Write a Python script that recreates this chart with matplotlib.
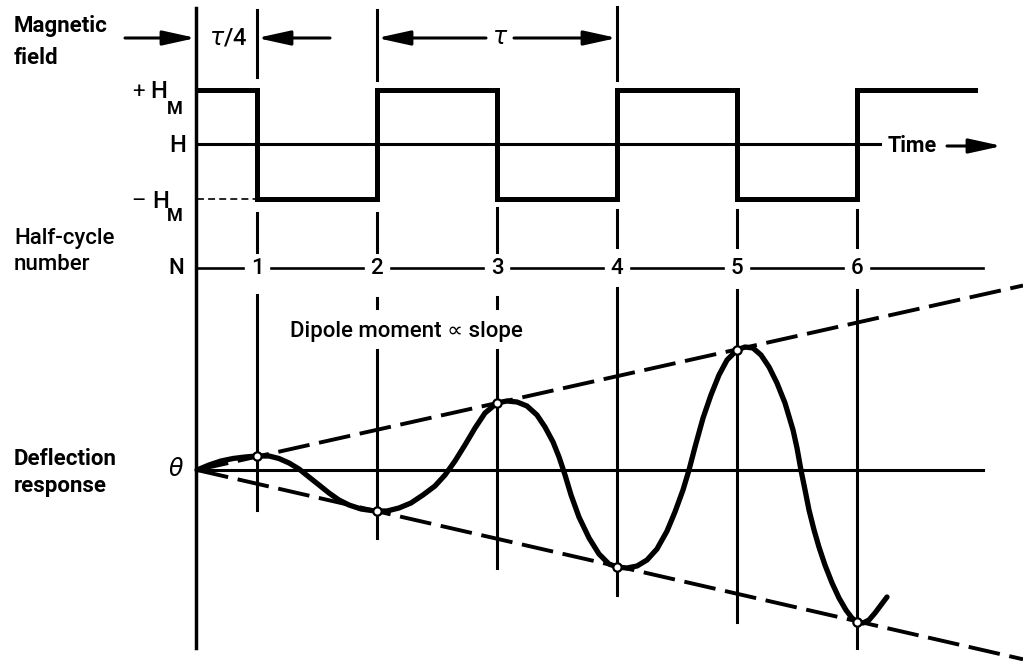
import matplotlib
matplotlib.use("Agg")
import matplotlib.pyplot as plt

plt.rcParams['font.family'] = ['Roboto', 'DejaVu Sans']
plt.rcParams['lines.scale_dashes'] = False

# --- data (time in half-cycle units, tau/2 = 1) ---
half_cycle = [1, 2, 3, 4, 5, 6]
switch_t = [n - 0.5 for n in half_cycle]
field_edges = [0.0, 0.5, 1.5, 2.5, 3.5, 4.5, 5.5, 6.48]
field_level = [1, -1, 1, -1, 1, -1, 1]          # +H_M / -H_M

# deflection curve (arbitrary units)
curve_t = [0.000, 0.100, 0.200, 0.300, 0.400, 0.500, 0.600, 0.683, 0.767, 0.850,
           0.933, 1.017, 1.100, 1.183, 1.267, 1.367, 1.483, 1.583, 1.683, 1.783,
           1.883, 1.983, 2.067, 2.150, 2.233, 2.317, 2.400, 2.500, 2.583, 2.667,
           2.750, 2.833, 2.900, 2.967, 3.017, 3.067, 3.117, 3.183, 3.267, 3.350,
           3.433, 3.500, 3.583, 3.667, 3.750, 3.833, 3.917, 3.983, 4.050, 4.100,
           4.150, 4.217, 4.283, 4.350, 4.417, 4.500, 4.567, 4.633, 4.700, 4.767,
           4.833, 4.900, 4.967, 5.000, 5.033, 5.067, 5.100, 5.142, 5.183, 5.233,
           5.292, 5.350, 5.408, 5.458, 5.500, 5.550, 5.600, 5.650, 5.700, 5.750]
curve_theta = [0.0, 0.5, 0.9, 1.15, 1.3, 1.4, 1.4, 1.15, 0.7, 0.1,
               -0.7, -1.5, -2.3, -3.0, -3.5, -3.9, -4.1, -4.1, -3.8, -3.3,
               -2.5, -1.6, -0.5, 0.9, 2.5, 4.2, 5.7, 6.7, 6.9, 6.8,
               6.4, 5.5, 4.3, 2.8, 1.3, -0.5, -2.5, -4.7, -6.8, -8.4,
               -9.4, -9.7, -9.8, -9.6, -9.0, -7.9, -6.1, -4.2, -2.0, 0.0,
               2.3, 5.2, 7.5, 9.5, 11.0, 12.0, 12.3, 12.2, 11.5, 10.3,
               8.7, 6.7, 4.0, 2.2, 0.0, -2.0, -4.0, -6.0, -7.7, -9.5,
               -11.3, -12.8, -14.0, -14.8, -15.2, -15.3, -15.0, -14.3, -13.5, -12.7]
marker_theta = [1.4, -4.1, 6.7, -9.7, 12.0, -15.2]
slope_upper = 2.68
slope_lower = -2.75

# --- layout ---
W, H = 1023, 662
X0, DX = 197, 120            # pixel of t=0, pixels per half cycle
t_min, t_max = -X0 / DX, (W - X0) / DX
def tx(px):
    return (px - X0) / DX

fig = plt.figure(figsize=(W / 100, H / 100), dpi=100)
ax = fig.add_axes([0, 0, 1, 1])              # layout axis, y in pixels
ax.set_xlim(t_min, t_max)
ax.set_ylim(H, 0)
axh = fig.add_axes([0, 0, 1, 1], sharex=ax)  # field panel
axh.set_ylim((144 - H) / 54.5, 144 / 54.5)
axt = fig.add_axes([0, 0, 1, 1], sharex=ax)  # deflection panel
axt.set_ylim((470 - H) / 10, 470 / 10)
for a in (ax, axh, axt):
    a.set_axis_off()
    a.patch.set_alpha(0)

LW = 2.2
# origin vertical
ax.plot([tx(196), tx(196)], [8, 648], color='k', lw=LW + 0.3)

# vertical guides per half cycle
top_ext = {1: (10, 77), 2: (10, 80), 4: (7, 80)}
mid_seg = {1: [(213, 252), (295, 510)],
           2: [(213, 252), (298, 308), (350, 538)],
           3: [(208, 252), (297, 308), (350, 568)],
           4: [(210, 247), (288, 595)],
           5: [(210, 247), (290, 622)],
           6: [(210, 247), (290, 648)]}
for n, t in zip(half_cycle, switch_t):
    if n in top_ext:
        ax.plot([t, t], top_ext[n], color='k', lw=LW)
    for y0, y1 in mid_seg[n]:
        ax.plot([t, t], [y0, y1], color='k', lw=LW)
    ax.text(t, 268, str(n), ha='center', va='center', fontsize=16,
            fontweight='medium')

# N line with gaps for the numbers
n_pts = [tx(196)] + [v for t in switch_t for v in (t - 0.12, t + 0.12)] + [tx(983)]
for i in range(0, len(n_pts), 2):
    ax.plot([n_pts[i], n_pts[i + 1]], [268, 268], color='k', lw=1.9)

# field square wave
sx, sy = [], []
for i, lev in enumerate(field_level):
    sx += [field_edges[i], field_edges[i + 1]]
    sy += [lev, lev]
axh.plot(sx, sy, color='k', lw=3.6, solid_joinstyle='miter')
axh.plot([0, tx(880)], [0, 0], color='k', lw=LW)
axh.plot([0, 0.5], [-1, -1], color='k', lw=1.2, dashes=(5, 3))

# deflection panel
axt.plot([0, tx(983)], [0, 0], color='k', lw=LW)
axt.plot([0, t_max], [0, slope_upper * t_max], color='k', lw=2.8, dashes=(23, 7))
axt.plot([0, t_max], [0, slope_lower * t_max], color='k', lw=2.8, dashes=(23, 7))
axt.plot(curve_t, curve_theta, color='k', lw=3.8, solid_joinstyle='round',
         solid_capstyle='round')
axt.plot(switch_t, marker_theta, 'o', ms=6, mfc='white', mec='k', mew=1.6)

# dimension arrows
akw = dict(arrowstyle='-|>,head_length=1.0,head_width=0.22', color='k',
           lw=2.2, mutation_scale=20, shrinkA=0, shrinkB=0)
def arrow(xa, xb, y):
    ax.annotate('', xy=(xb, y), xytext=(xa, y), arrowprops=akw)
arrow(tx(125), tx(196), 38)
arrow(tx(330), 0.5, 38)
arrow(tx(486), 1.5, 38)
arrow(tx(514), 3.5, 38)
arrow(tx(947), tx(1002), 146)
ax.text(tx(912), 146, 'Time', ha='center', va='center', fontsize=15.5,
        fontweight='bold')
ax.text(tx(228), 38, r'$\tau$/4', ha='center', va='center', fontsize=17,
        fontweight='medium')
ax.text(tx(500), 38, r'$\tau$', ha='center', va='center', fontsize=17)

# level labels
ax.text(tx(139), 92, '+', ha='center', va='center', fontsize=16)
ax.text(tx(159), 92, 'H', ha='center', va='center', fontsize=17, fontweight='medium')
ax.text(tx(175), 109, 'M', ha='center', va='center', fontsize=13, fontweight='bold')
ax.text(tx(178), 146, 'H', ha='center', va='center', fontsize=17, fontweight='medium')
ax.text(tx(139), 202, '\u2013', ha='center', va='center', fontsize=16)
ax.text(tx(161), 202, 'H', ha='center', va='center', fontsize=17, fontweight='medium')
ax.text(tx(175), 216, 'M', ha='center', va='center', fontsize=13, fontweight='bold')
ax.text(tx(176), 268, 'N', ha='center', va='center', fontsize=16, fontweight='medium')
ax.text(tx(176), 470, r'$\theta$', ha='center', va='center', fontsize=17)
ax.text(tx(406), 332, 'Dipole moment \u221d slope', ha='center', va='center',
        fontsize=16, fontweight='medium')

# row titles
ax.text(tx(14), 32, 'Magnetic', ha='left', va='baseline', fontsize=16, fontweight='bold')
ax.text(tx(14), 64, 'field', ha='left', va='baseline', fontsize=16, fontweight='bold')
ax.text(tx(14), 244, 'Half-cycle', ha='left', va='baseline', fontsize=16,
        fontweight='medium')
ax.text(tx(14), 270, 'number', ha='left', va='baseline', fontsize=16,
        fontweight='medium')
ax.text(tx(14), 465, 'Deflection', ha='left', va='baseline', fontsize=16, fontweight='bold')
ax.text(tx(14), 492, 'response', ha='left', va='baseline', fontsize=16, fontweight='bold')

fig.savefig('out.png', dpi=100)
